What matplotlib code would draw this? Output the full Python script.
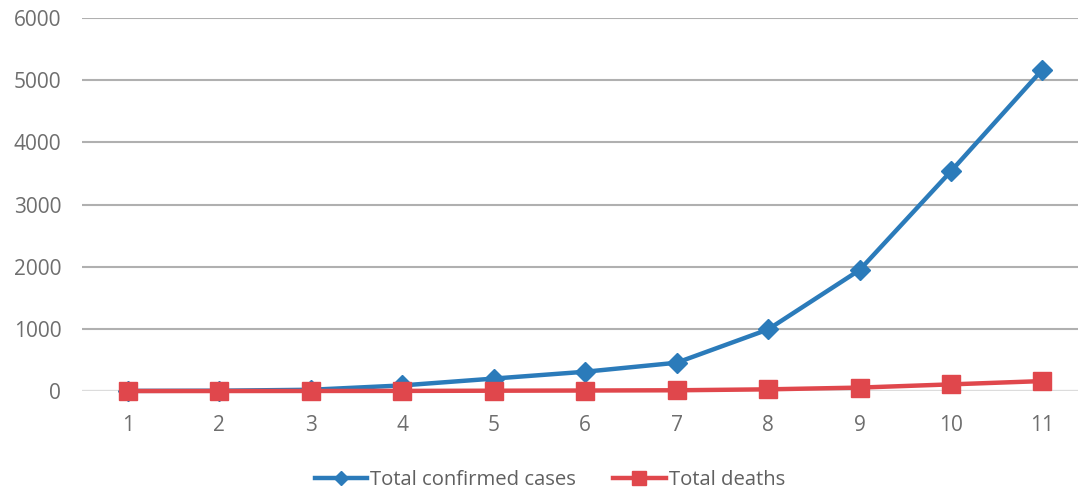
import matplotlib.pyplot as plt

# Data
days = [1, 2, 3, 4, 5, 6, 7, 8, 9, 10, 11]
confirmed = [2, 5, 20, 90, 200, 310, 455, 990, 1945, 3535, 5170]
deaths = [0, 0, 1, 2, 5, 8, 12, 27, 55, 107, 160]
y_ticks = [0, 1000, 2000, 3000, 4000, 5000, 6000]

plt.rcParams['font.family'] = ['Open Sans', 'DejaVu Sans']

fig = plt.figure(figsize=(10.78, 4.9), dpi=100)
ax = fig.add_axes([0.0761, 0.202, 0.924, 0.7613])

ax.plot(days, confirmed, color='#2b7bba', lw=3.2, marker='D', markersize=10,
        label='Total confirmed cases', clip_on=False, zorder=3)
ax.plot(days, deaths, color='#e0474c', lw=3.2, marker='s', markersize=13.5,
        label='Total deaths', clip_on=False, zorder=4)

ax.set_xlim(0.5, 11.39)
ax.set_ylim(0, 6000)
ax.set_xticks(days)
ax.set_yticks(y_ticks)
ax.tick_params(axis='both', length=0, labelsize=15, colors='#6e6e6e')
ax.tick_params(axis='y', pad=15)
ax.tick_params(axis='x', pad=17)

ax.grid(axis='y', color='#b0b0b0', lw=1.5)
ax.set_axisbelow(True)
for s in ax.spines.values():
    s.set_visible(False)
ax.axhline(0, color='#dcdcdc', lw=1.5, zorder=1)

fig.legend(loc='lower center', bbox_to_anchor=(0.51, -0.038), ncol=2, frameon=False,
           fontsize=14.6, labelcolor='#606060', handlelength=2.6, handletextpad=0.15,
           columnspacing=1.8, markerscale=0.7)

fig.savefig('out.png', dpi=100)
